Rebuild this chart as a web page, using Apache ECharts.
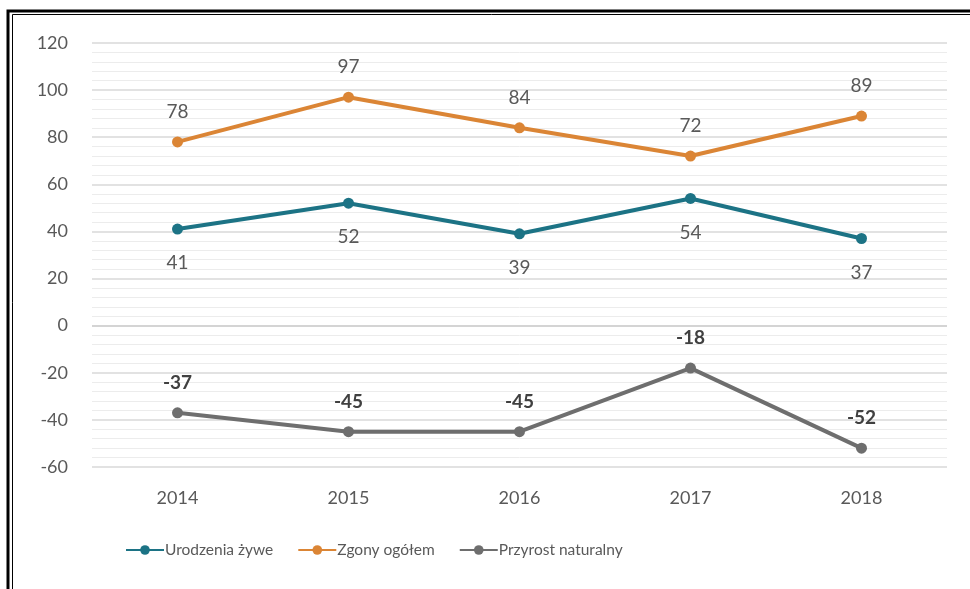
<!DOCTYPE html>
<html>
<head>
<meta charset="utf-8">
<script src="https://cdn.jsdelivr.net/npm/echarts@6/dist/echarts.min.js"></script>
<style>
html,body{margin:0;padding:0;background:#fff;}
#c{width:970px;height:589px;}
</style>
</head>
<body>
<div id="c"></div>
<script>
const categories = ['2014', '2015', '2016', '2017', '2018'];
const urodzenia = [41, 52, 39, 54, 37];
const zgony = [78, 97, 84, 72, 89];
const przyrost = [-37, -45, -45, -18, -52];
const seriesNames = ['Urodzenia żywe', 'Zgony ogółem', 'Przyrost naturalny'];
const yTicks = { min: -60, max: 120, interval: 20 };

const FONT = 'Lato, "Open Sans", sans-serif';
const chart = echarts.init(document.getElementById('c'), null, { renderer: 'canvas' });

function lineSeries(name, data, color, pos, dist, labelColor, bold) {
  return {
    name: name,
    type: 'line',
    data: data,
    symbol: 'circle',
    symbolSize: 11,
    lineStyle: { width: 4, color: color },
    itemStyle: { color: color },
    label: {
      show: true,
      position: pos,
      distance: dist,
      color: labelColor,
      fontSize: 19,
      fontFamily: FONT,
      fontWeight: bold ? 'bold' : 'normal'
    },
    z: 3
  };
}

const s1 = lineSeries(seriesNames[0], urodzenia, '#1c7385', 'bottom', 19, '#595959', false);
const s2 = lineSeries(seriesNames[1], zgony, '#db8535', 'top', 15, '#595959', false);
const s3 = lineSeries(seriesNames[2], przyrost, '#6e6e6e', 'top', 15, '#404040', true);
s3.markLine = {
  silent: true,
  symbol: 'none',
  label: { show: false },
  lineStyle: { color: '#d4d4d4', width: 2, type: 'solid' },
  data: [{ yAxis: 0 }],
  z: 1
};

chart.setOption({
  backgroundColor: '#ffffff',
  animation: false,
  grid: { left: 92, right: 23, top: 43, bottom: 122, containLabel: false },
  xAxis: {
    type: 'category',
    data: categories,
    boundaryGap: true,
    axisLine: { show: false },
    axisTick: { show: false },
    axisLabel: { color: '#595959', fontSize: 18, fontFamily: FONT, margin: 22 }
  },
  yAxis: {
    type: 'value',
    min: yTicks.min,
    max: yTicks.max,
    interval: yTicks.interval,
    axisLine: { show: false },
    axisTick: { show: false },
    axisLabel: { color: '#595959', fontSize: 18, fontFamily: FONT, margin: 24 },
    splitLine: { lineStyle: { color: '#d9d9d9', width: 1.5 } },
    minorTick: { show: false, splitNumber: 5 },
    minorSplitLine: { show: true, lineStyle: { color: '#ececec', width: 1 } }
  },
  legend: {
    bottom: 26,
    left: 120,
    itemWidth: 38,
    itemHeight: 12,
    itemGap: 24,
    textStyle: { color: '#595959', fontSize: 15.5, fontFamily: FONT, padding: [0, 0, 0, -4] },
    data: seriesNames
  },
  series: [s1, s2, s3],
  graphic: [
    { type: 'rect', shape: { x: 8, y: 11, width: 1000, height: 700 }, style: { fill: null, stroke: '#000', lineWidth: 3 }, silent: true },
    { type: 'rect', shape: { x: 12.5, y: 14.5, width: 1000, height: 700 }, style: { fill: null, stroke: '#000', lineWidth: 1 }, silent: true }
  ]
});
</script>
</body>
</html>
